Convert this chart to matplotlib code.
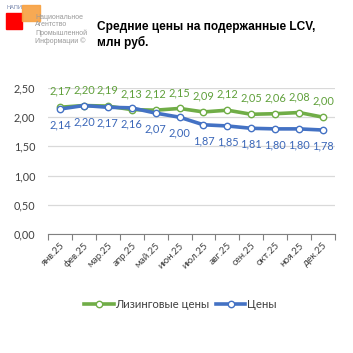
import matplotlib
matplotlib.use("Agg")
import matplotlib.pyplot as plt
from matplotlib.patches import Rectangle

months = ["янв.25", "фев.25", "мар.25", "апр.25", "май.25", "июн.25",
          "июл.25", "авг.25", "сен.25", "окт.25", "ноя.25", "дек.25"]
leasing = [2.17, 2.20, 2.19, 2.13, 2.12, 2.15, 2.09, 2.12, 2.05, 2.06, 2.08, 2.00]
prices = [2.14, 2.20, 2.17, 2.16, 2.07, 2.00, 1.87, 1.85, 1.81, 1.80, 1.80, 1.78]
yticks = [0.0, 0.5, 1.0, 1.5, 2.0, 2.5]

GREEN = "#70AD47"
BLUE = "#4472C4"
FONT = ["Lato", "DejaVu Sans"]
plt.rcParams['font.family'] = FONT

fig = plt.figure(figsize=(3.53, 3.53), dpi=100)
ax = fig.add_axes([48/353, 1-234/353, (335-48)/353, (234-88)/353])

x = list(range(len(months)))
ax.plot(x, leasing, color=GREEN, lw=2.6, marker="o", ms=4.6, mfc="white",
        mec=GREEN, mew=1.0, label="Лизинговые цены", zorder=3)
ax.plot(x, prices, color=BLUE, lw=2.6, marker="o", ms=4.6, mfc="white",
        mec=BLUE, mew=1.0, label="Цены", zorder=4)

def fmt(v):
    return f"{v:.2f}".replace(".", ",")

for i, (a, b) in enumerate(zip(leasing, prices)):
    ax.annotate(fmt(a), (i, a), xytext=(0, 7.5), textcoords="offset points",
                ha="center", va="bottom", fontsize=7.9, color="#5FA03A")
    ax.annotate(fmt(b), (i, b), xytext=(0, -7.5), textcoords="offset points",
                ha="center", va="top", fontsize=7.9, color="#3A66B8")

ax.set_xlim(-0.5, len(months) - 0.5)
ax.set_ylim(0, 2.5)
ax.set_yticks(yticks)
ax.set_yticklabels([fmt(v) for v in yticks], fontsize=7.8, color="#404040")
ax.tick_params(axis="y", length=0, pad=9)
ax.yaxis.grid(True, color="#D9D9D9", lw=0.9)
ax.set_axisbelow(True)
ax.set_xticks(x)
ax.set_xticklabels(months, rotation=45, ha="right", rotation_mode="anchor",
                   fontsize=7.0, color="#404040")
ax.set_xticks([i - 0.5 for i in range(len(months) + 1)], minor=True)
ax.tick_params(axis="x", which="major", length=0, pad=5)
ax.tick_params(axis="x", which="minor", length=4, color="#808080", width=0.8)
for s in ["top", "right", "left"]:
    ax.spines[s].set_visible(False)
ax.spines["bottom"].set_color("#808080")
ax.spines["bottom"].set_linewidth(0.8)

fig.legend(loc="center", bbox_to_anchor=(0.51, 1-304/353), ncol=2, frameon=False,
           fontsize=8.2, handlelength=2.6, columnspacing=0.6, handletextpad=0.1,
           labelcolor="#404040")

fig.text(97/353, 1-35/353, "Средние цены на подержанные LCV,\nмлн руб.",
         fontsize=8.6, fontweight="bold", ha="left", va="center",
         family=["Liberation Sans", "DejaVu Sans"], linespacing=1.25)

# logo
fig.patches.append(Rectangle((6/353, 1-29/353), 16/353, 16/353,
                             transform=fig.transFigure, color="#FF0000"))
fig.patches.append(Rectangle((22/353, 1-21/353), 18/353, 16/353,
                             transform=fig.transFigure, color="#F7A040", alpha=0.9))
fig.text(6/353, 1-7.5/353, "НАПИ", fontsize=4.0, color="#7080A8", ha="left", va="center")
fig.text(35/353, 1-29.5/353,
         "Национальное\nАгентство\nПромышленной\nИнформации ©",
         fontsize=5.0, color="#999999", ha="left", va="center", linespacing=1.15,
         family=["Liberation Sans Narrow", "Liberation Sans", "DejaVu Sans"])

fig.savefig("out.png", dpi=100)
